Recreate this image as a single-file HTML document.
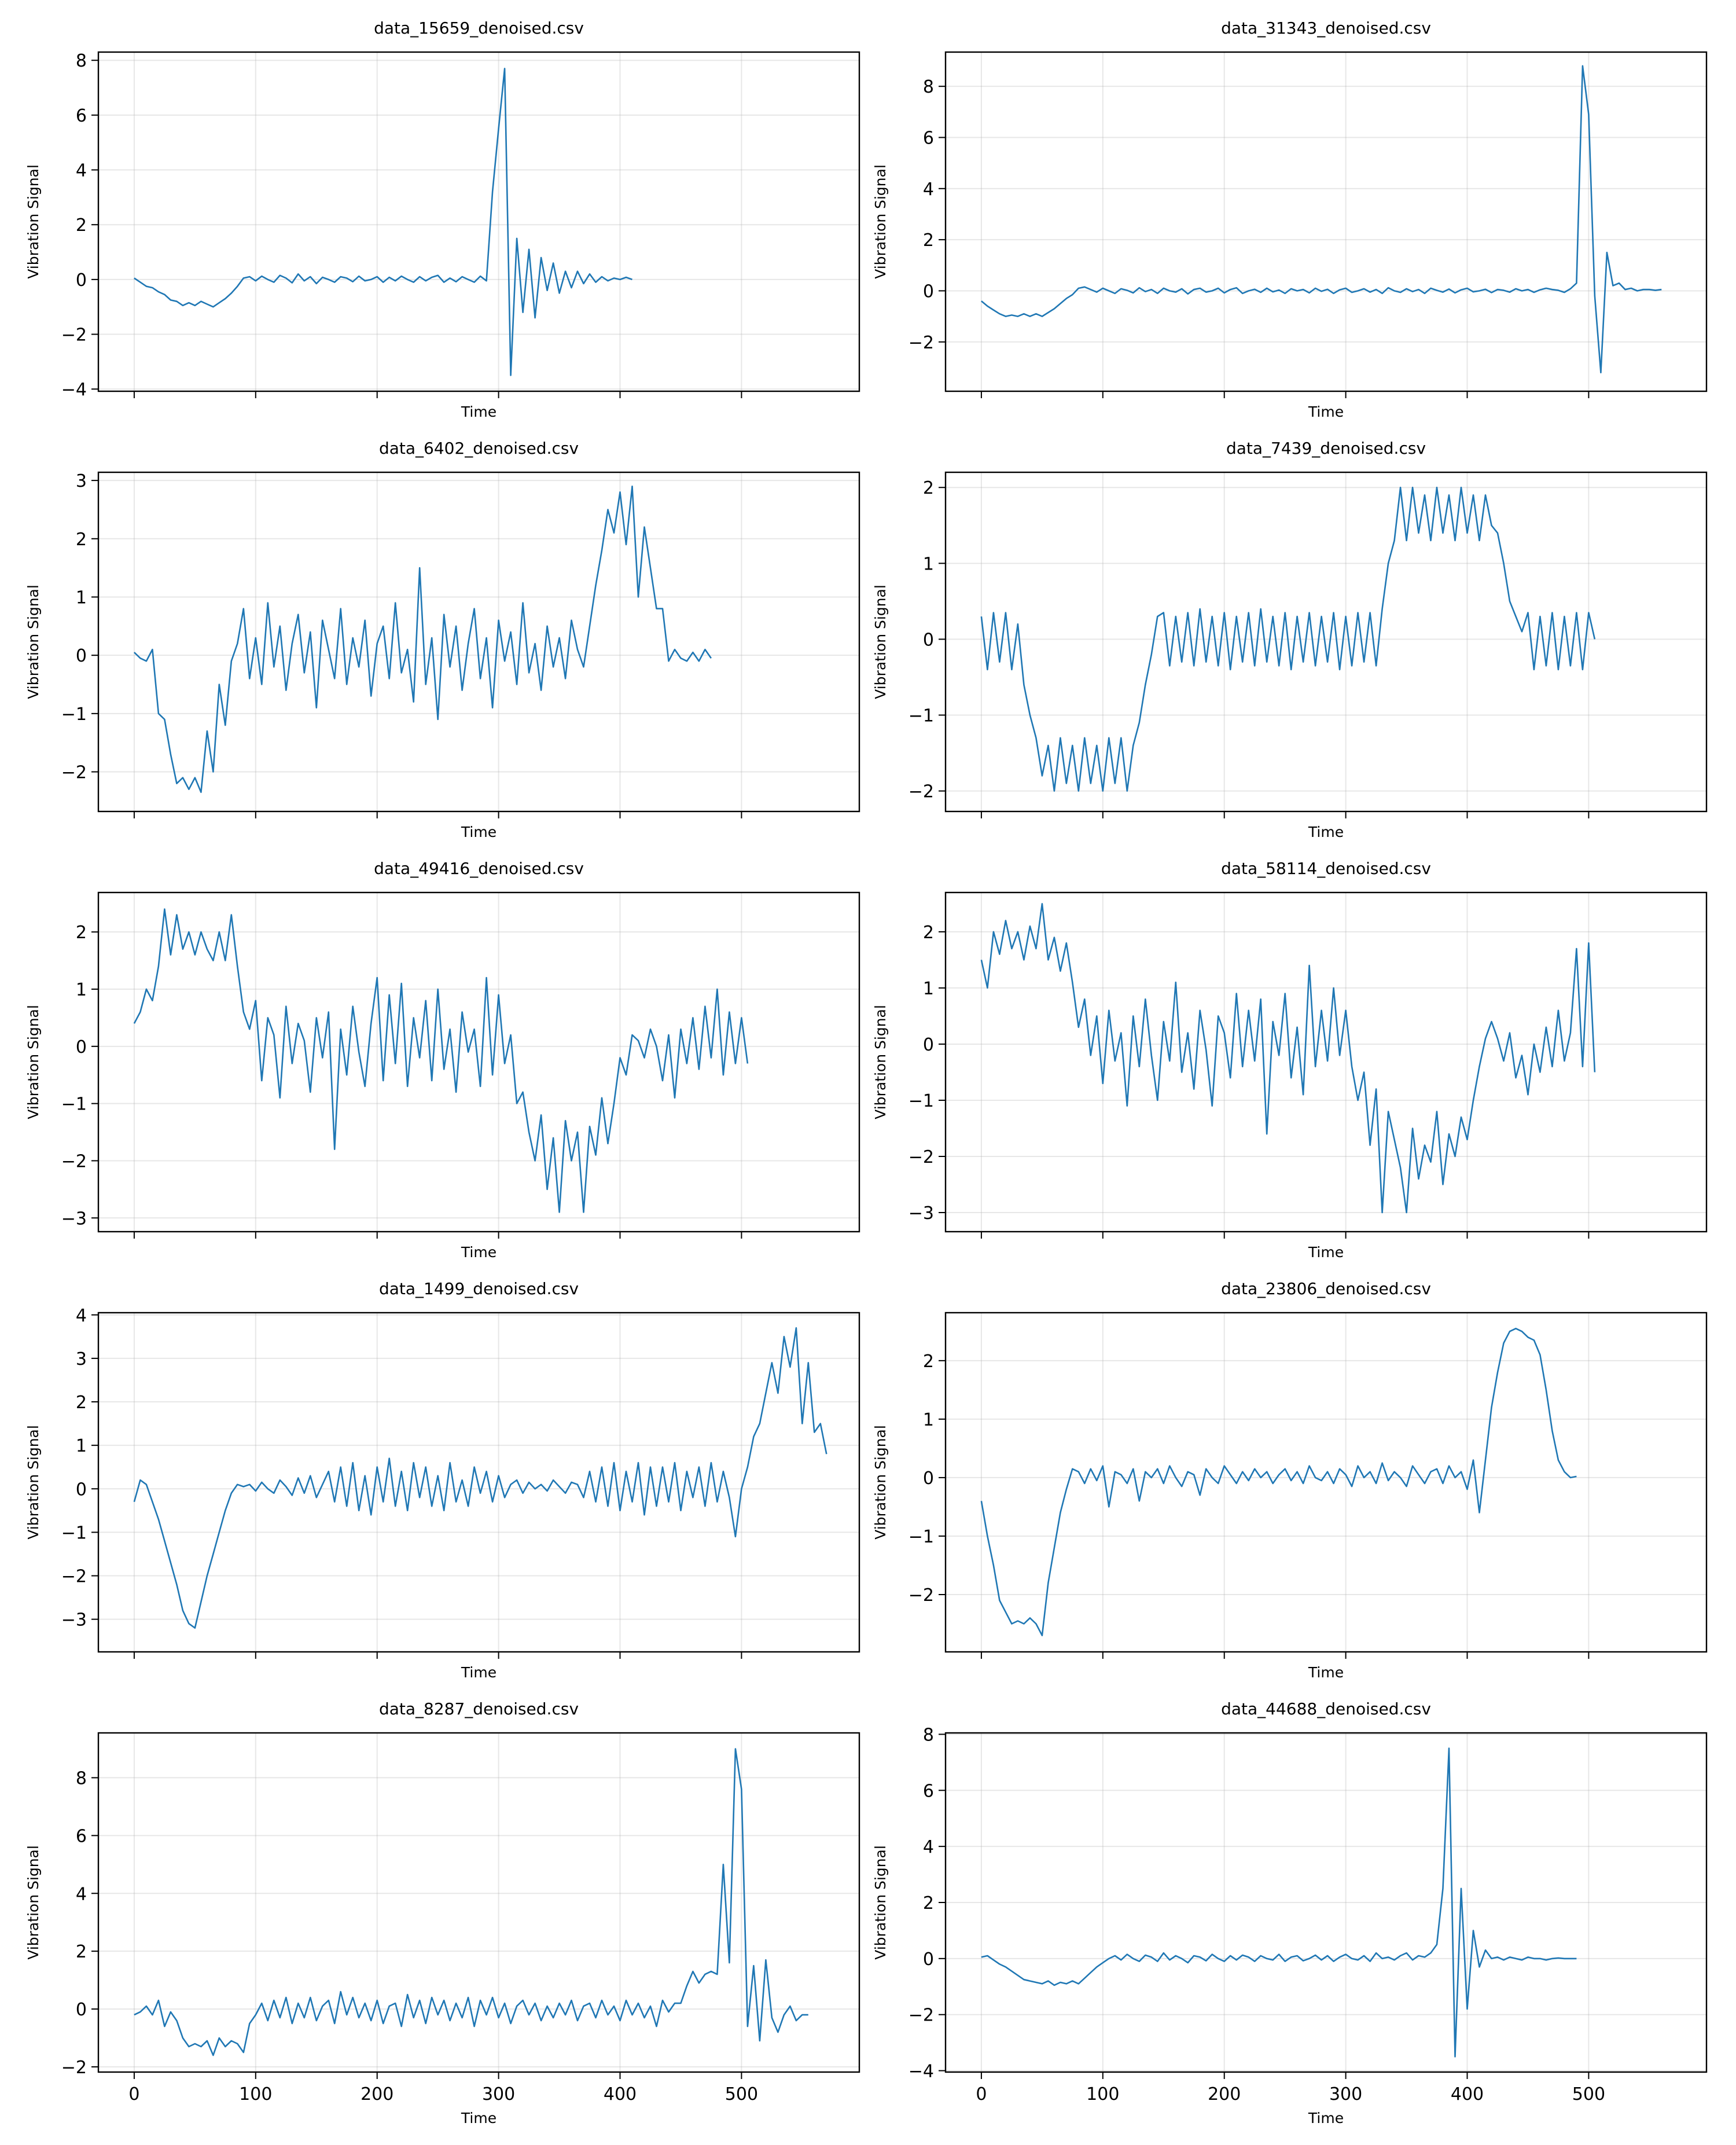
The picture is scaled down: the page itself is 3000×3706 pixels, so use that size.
<!DOCTYPE html>
<html><head><meta charset="utf-8"><style>
html,body{margin:0;padding:0;background:#fff}
svg{display:block}
text{font-family:"DejaVu Sans","Liberation Sans",sans-serif;fill:#000}
</style></head><body>
<svg id="fig" width="3000" height="3706" viewBox="0 0 3000 3706" xmlns="http://www.w3.org/2000/svg"></svg>
<script>
const titles=["data_15659_denoised.csv","data_31343_denoised.csv","data_6402_denoised.csv","data_7439_denoised.csv","data_49416_denoised.csv","data_58114_denoised.csv","data_1499_denoised.csv","data_23806_denoised.csv","data_8287_denoised.csv","data_44688_denoised.csv"];
const xTicks=[0,100,200,300,400,500];
const xLim=[-29.5,597];
const timeStep=5;
const yLims=[[-4.08,8.3],[-3.93,9.34],[-2.68,3.14],[-2.27,2.2],[-3.24,2.69],[-3.34,2.7],[-3.75,4.05],[-2.98,2.82],[-2.18,9.55],[-4.05,8.05]];
const yTicks=[[-4,-2,0,2,4,6,8],[-2,0,2,4,6,8],[-2,-1,0,1,2,3],[-2,-1,0,1,2],[-3,-2,-1,0,1,2],[-3,-2,-1,0,1,2],[-3,-2,-1,0,1,2,3,4],[-2,-1,0,1,2],[-2,0,2,4,6,8],[-4,-2,0,2,4,6,8]];
const s1=[0.05,-0.1,-0.25,-0.3,-0.45,-0.55,-0.75,-0.8,-0.95,-0.85,-0.95,-0.8,-0.9,-1.0,-0.85,-0.7,-0.5,-0.25,0.05,0.1,
-0.05,0.12,0,-0.1,0.15,0.05,-0.12,0.2,-0.05,0.1,-0.15,0.08,0,-0.1,0.1,0.05,-0.08,0.12,-0.05,0,0.1,-0.1,0.08,-0.05,0.12,0,-0.1,0.1,-0.05,0.08,0.15,-0.1,0.05,-0.08,0.1,0,-0.1,0.12,-0.05,
3.2,5.5,7.7,-3.5,1.5,-1.2,1.1,-1.4,0.8,-0.4,0.6,-0.5,0.3,-0.3,0.3,-0.15,0.2,-0.1,0.1,-0.05,0.05,0,0.08,0];
const s2=[-0.4,-0.6,-0.75,-0.9,-1.0,-0.95,-1.0,-0.9,-1.0,-0.9,-1.0,-0.85,-0.7,-0.5,-0.3,-0.15,0.1,0.15,
0.05,-0.05,0.1,0,-0.1,0.08,0.02,-0.08,0.12,-0.03,0.05,-0.1,0.1,0,-0.05,0.08,-0.12,0.05,0.1,-0.05,0,0.1,-0.08,0.05,0.12,-0.1,0,0.06,-0.06,0.1,-0.04,0.03,-0.1,0.08,0,0.05,-0.08,0.1,-0.02,0.06,-0.1,0.04,0.1,-0.06,0,0.08,-0.05,0.05,-0.1,0.12,0,-0.06,0.08,-0.03,0.05,-0.1,0.1,0.02,-0.05,0.07,-0.08,0.04,0.1,-0.04,0,0.06,-0.07,0.05,0.02,-0.05,0.08,0,0.05,-0.06,0.04,0.1,0.05,0.02,-0.06,0.08,
0.3,8.8,6.9,-0.2,-3.2,1.5,0.2,0.3,0.05,0.1,0,0.05,0.05,0.02,0.05];
const s3=[0.05,-0.05,-0.1,0.1,-1.0,-1.1,-1.7,-2.2,-2.1,-2.3,-2.1,-2.35,-1.3,-2.0,-0.5,-1.2,-0.1,0.2,
0.8,-0.4,0.3,-0.5,0.9,-0.2,0.5,-0.6,0.2,0.7,-0.3,0.4,-0.9,0.6,0.1,-0.4,0.8,-0.5,0.3,-0.2,0.6,-0.7,0.2,0.5,-0.4,0.9,-0.3,0.1,-0.8,1.5,-0.5,0.3,-1.1,0.7,-0.2,0.5,-0.6,0.2,0.8,-0.4,0.3,-0.9,0.6,-0.1,0.4,-0.5,0.9,-0.3,0.2,-0.6,0.5,-0.2,0.3,-0.4,0.6,0.1,-0.2,
0.5,1.2,1.8,2.5,2.1,2.8,1.9,2.9,1.0,2.2,1.5,0.8,0.8,-0.1,0.1,-0.05,-0.1,0.05,-0.1,0.1,-0.05];
const s4=[0.3,-0.4,0.35,-0.3,0.35,-0.4,0.2,-0.6,-1.0,-1.3,-1.8,-1.4,-2.0,-1.3,-1.9,-1.4,-2.0,-1.3,-1.9,-1.4,-2.0,-1.3,-1.9,-1.3,-2.0,-1.4,-1.1,-0.6,-0.2,0.3,
0.35,-0.35,0.3,-0.3,0.35,-0.35,0.4,-0.3,0.3,-0.35,0.35,-0.4,0.3,-0.3,0.35,-0.35,0.4,-0.3,0.3,-0.35,0.35,-0.4,0.3,-0.3,0.35,-0.35,0.3,-0.3,0.35,-0.4,0.3,-0.35,0.35,-0.3,0.35,-0.35,
0.4,1.0,1.3,2.0,1.3,2.0,1.4,1.9,1.3,2.0,1.4,1.9,1.3,2.0,1.4,1.9,1.3,1.9,1.5,1.4,1.0,0.5,0.3,0.1,
0.35,-0.4,0.3,-0.35,0.35,-0.4,0.3,-0.35,0.35,-0.4,0.35,0];
const s5=[0.4,0.6,1.0,0.8,1.4,2.4,1.6,2.3,1.7,2.0,1.6,2.0,1.7,1.5,2.0,1.5,2.3,1.4,0.6,0.3,
0.8,-0.6,0.5,0.2,-0.9,0.7,-0.3,0.4,0.1,-0.8,0.5,-0.2,0.6,-1.8,0.3,-0.5,0.7,-0.1,-0.7,0.4,1.2,-0.6,0.9,-0.3,1.1,-0.7,0.5,-0.2,0.8,-0.6,1.0,-0.4,0.3,-0.8,0.6,-0.1,0.3,-0.7,1.2,-0.5,
0.9,-0.3,0.2,-1.0,-0.8,-1.5,-2.0,-1.2,-2.5,-1.6,-2.9,-1.3,-2.0,-1.5,-2.9,-1.4,-1.9,-0.9,-1.7,-1.0,
-0.2,-0.5,0.2,0.1,-0.2,0.3,0.0,-0.6,0.2,-0.9,0.3,-0.3,0.5,-0.4,0.7,-0.2,1.0,-0.5,0.6,-0.3,0.5,-0.3];
const s6=[1.5,1.0,2.0,1.6,2.2,1.7,2.0,1.5,2.1,1.7,2.5,1.5,1.9,1.3,1.8,1.1,0.3,0.8,-0.2,0.5,
-0.7,0.6,-0.3,0.2,-1.1,0.5,-0.4,0.8,-0.2,-1.0,0.4,-0.3,1.1,-0.5,0.2,-0.8,0.6,-0.1,-1.1,0.5,0.2,-0.6,0.9,-0.4,0.6,-0.3,0.8,-1.6,0.4,-0.2,0.9,-0.6,0.3,-0.9,1.4,-0.4,0.6,-0.3,1.0,-0.2,
0.6,-0.4,-1.0,-0.5,-1.8,-0.8,-3.0,-1.2,-1.7,-2.2,-3.0,-1.5,-2.4,-1.8,-2.1,-1.2,-2.5,-1.6,-2.0,-1.3,
-1.7,-1.0,-0.4,0.1,0.4,0.1,-0.3,0.2,-0.6,-0.2,-0.9,0.0,-0.5,0.3,-0.4,0.6,-0.3,0.2,1.7,-0.4,1.8,-0.5];
const s7=[-0.3,0.2,0.1,-0.3,-0.7,-1.2,-1.7,-2.2,-2.8,-3.1,-3.2,-2.6,-2.0,-1.5,-1.0,-0.5,-0.1,0.1,0.05,
0.1,-0.05,0.15,0,-0.1,0.2,0.05,-0.15,0.25,-0.1,0.3,-0.2,0.1,0.4,-0.3,0.5,-0.4,0.6,-0.5,0.3,-0.6,0.5,-0.3,0.7,-0.4,0.4,-0.5,0.6,-0.2,0.5,-0.4,0.3,-0.5,0.6,-0.3,0.2,-0.4,0.5,-0.1,0.4,-0.3,0.3,-0.2,0.1,0.2,-0.1,0.15,0,0.1,-0.05,0.2,0.05,-0.1,0.15,0.1,-0.2,0.4,-0.3,0.5,-0.4,0.6,-0.5,0.4,-0.3,0.6,-0.6,0.5,-0.4,0.5,-0.3,0.6,-0.5,0.4,-0.2,0.5,-0.4,0.6,-0.3,0.4,
-0.2,-1.1,0.0,0.5,1.2,1.5,2.2,2.9,2.2,3.5,2.8,3.7,1.5,2.9,1.3,1.5,0.8];
const s8=[-0.4,-1.0,-1.5,-2.1,-2.3,-2.5,-2.45,-2.5,-2.4,-2.5,-2.7,-1.8,-1.2,-0.6,-0.2,0.15,
0.1,-0.1,0.15,-0.05,0.2,-0.5,0.1,0.05,-0.1,0.15,-0.4,0.1,0,0.15,-0.1,0.2,0,-0.15,0.1,0.05,-0.3,0.15,0,-0.1,0.2,0.05,-0.1,0.1,-0.05,0.15,0,0.1,-0.1,0.05,0.15,-0.05,0.1,-0.1,0.2,0,-0.05,0.1,-0.1,0.15,0.05,-0.15,0.2,0,0.1,-0.1,0.25,-0.05,0.1,0,-0.15,0.2,0.05,-0.1,0.1,0.15,-0.1,0.2,0,0.1,-0.2,0.3,
-0.6,0.3,1.2,1.8,2.3,2.5,2.55,2.5,2.4,2.35,2.1,1.5,0.8,0.3,0.1,0.0,0.02];
const s9=[-0.2,-0.1,0.1,-0.2,0.3,-0.6,-0.1,-0.4,-1.0,-1.3,-1.2,-1.3,-1.1,-1.6,-1.0,-1.3,-1.1,-1.2,-1.5,-0.5,
-0.2,0.2,-0.4,0.3,-0.3,0.4,-0.5,0.2,-0.3,0.4,-0.4,0.1,0.3,-0.5,0.6,-0.2,0.4,-0.3,0.2,-0.4,0.3,-0.5,0.1,0.2,-0.6,0.5,-0.3,0.3,-0.5,0.4,-0.2,0.3,-0.4,0.2,-0.3,0.4,-0.6,0.3,-0.2,0.4,-0.3,0.2,-0.5,0.1,0.3,-0.2,0.2,-0.4,0.1,-0.3,0.2,-0.2,0.3,-0.4,0.1,0.2,-0.3,0.3,-0.2,0.1,-0.4,0.3,-0.2,0.2,-0.3,0.1,-0.6,0.3,-0.1,0.2,
0.2,0.8,1.3,0.9,1.2,1.3,1.2,5.0,1.6,9.0,7.6,-0.6,1.5,-1.1,1.7,-0.3,-0.8,-0.2,0.1,-0.4,-0.2,-0.2];
const s10=[0.05,0.1,-0.05,-0.2,-0.3,-0.45,-0.6,-0.75,-0.8,-0.85,-0.9,-0.8,-0.95,-0.85,-0.9,-0.8,-0.9,-0.7,-0.5,-0.3,-0.15,0.0,
0.1,-0.05,0.15,0,-0.1,0.12,0.05,-0.1,0.2,-0.05,0.1,0,-0.15,0.1,0.05,-0.08,0.15,0,-0.1,0.1,-0.05,0.12,0.05,-0.1,0.1,0,-0.05,0.15,-0.1,0.05,0.1,-0.08,0,0.12,-0.05,0.1,-0.1,0.05,0.15,0,-0.05,0.1,-0.1,0.2,0,0.05,-0.05,0.1,0.2,-0.05,0.1,0.05,0.2,
0.5,2.5,7.5,-3.5,2.5,-1.8,1.0,-0.3,0.3,0.0,0.05,-0.05,0.05,0.0,-0.05,0.05,0.0,0.0,-0.05,0.0,0.02,0.0,0.0,0.0];
const series=[s1,s2,s3,s4,s5,s6,s7,s8,s9,s10];

const NS="http://www.w3.org/2000/svg";
const svg=document.getElementById('fig');
function mk(tag,attrs,parent){const e=document.createElementNS(NS,tag);for(const k in attrs)e.setAttribute(k,attrs[k]);(parent||svg).appendChild(e);return e;}
const colLeft=[170,1634], W=1315, rowTop=[90,816,1542,2268,2994], H=586;
function fmt(v){return v<0?"\u2212"+Math.abs(v):String(v);}
for(let i=0;i<10;i++){
  const L=colLeft[i%2], T=rowTop[Math.floor(i/2)];
  const yl=yLims[i];
  const X=t=>L+(t-xLim[0])/(xLim[1]-xLim[0])*W;
  const Y=v=>T+H-(v-yl[0])/(yl[1]-yl[0])*H;
  const g=mk('g',{});
  
  
  xTicks.forEach(t=>{const l=mk('line',{x1:X(t),x2:X(t),y1:T,y2:T+H,stroke:'#b0b0b0','stroke-opacity':0.3,'stroke-width':2},g);
    });
  yTicks[i].forEach(v=>{const l=mk('line',{x1:L,x2:L+W,y1:Y(v),y2:Y(v),stroke:'#b0b0b0','stroke-opacity':0.3,'stroke-width':2},g);
    });
  const d=series[i].map((v,k)=>(k?'L':'M')+X(k*timeStep).toFixed(1)+' '+Y(v).toFixed(1)).join(' ');
  const p=mk('path',{d:d,fill:'none',stroke:'#1f77b4','stroke-width':2.6,'stroke-linejoin':'round'},g);
  
  
  const f=mk('rect',{x:L,y:T,width:W,height:H,fill:'none',stroke:'#000','stroke-width':2.4},g);
  
  
  yTicks[i].forEach(v=>{
    mk('line',{x1:L-12,x2:L,y1:Y(v),y2:Y(v),stroke:'#000','stroke-width':2},g);
    const tx=mk('text',{x:L-20,y:Y(v)+11,'font-size':30,'text-anchor':'end'},g);
    tx.textContent=fmt(v);
    
    
  });
  const bottom=Math.floor(i/2)===4;
  xTicks.forEach(t=>{
    mk('line',{x1:X(t),x2:X(t),y1:T+H,y2:T+H+12,stroke:'#000','stroke-width':2},g);
    if(bottom){const tx=mk('text',{x:X(t),y:T+H+48,'font-size':30,'text-anchor':'middle'},g);
      tx.textContent=String(t);
      
      }
  });
  const tt=mk('text',{x:L+W/2,y:T-32,'font-size':28,'text-anchor':'middle'},g);
  tt.textContent=titles[i];
  
  
  const xl=mk('text',{x:L+W/2,y:T+H+(bottom?88:44),'font-size':25,'text-anchor':'middle'},g);
  xl.textContent='Time';
  
  
  const yx=L-104, yy=T+H/2;
  const ylb=mk('text',{x:yx,y:yy,'font-size':25,'text-anchor':'middle',transform:'rotate(-90 '+yx+' '+yy+')'},g);
  ylb.textContent='Vibration Signal';
  
  
}
</script>
</body></html>
